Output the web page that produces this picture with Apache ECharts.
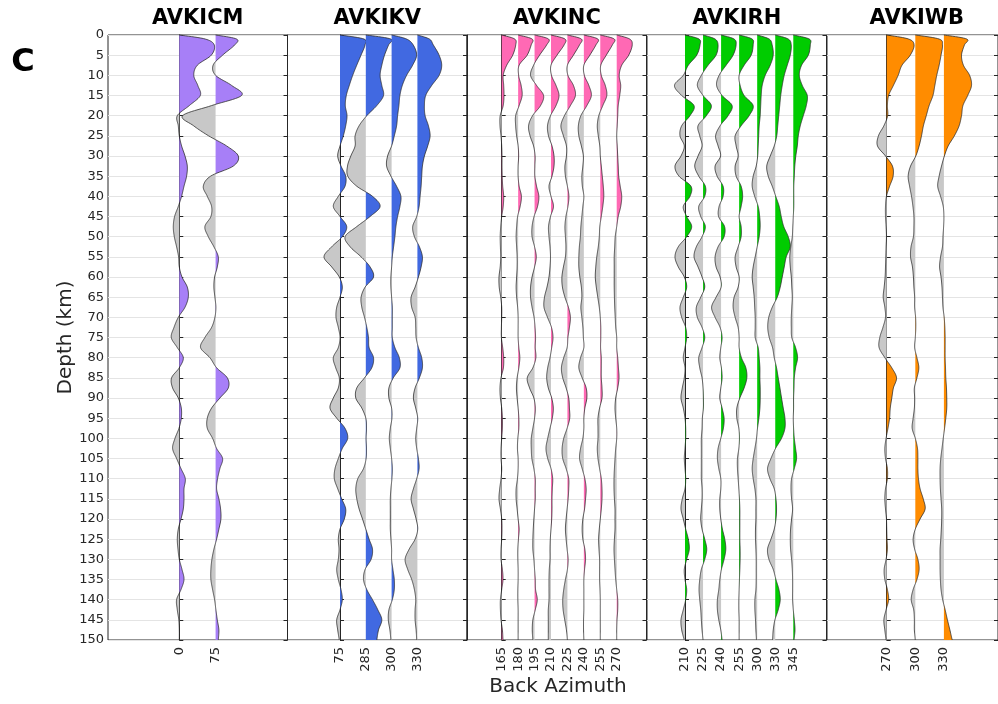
<!DOCTYPE html>
<html><head><meta charset="utf-8">
<script src="https://cdn.jsdelivr.net/npm/echarts@6/dist/echarts.min.js"></script>
<style>html,body{margin:0;padding:0;background:#fff}#c{width:998px;height:704px}</style>
</head><body><div id="c"></div>
<script>
// ---------- DATA ----------
const depth = [0,1,2.5,5,7.5,10,12.5,15,17.5,20,22.5,25,27.5,30,32.5,35,37.5,40,42.5,45,47.5,50,52.5,55,57.5,60,62.5,65,67.5,70,72.5,75,77.5,80,82.5,85,87.5,90,92.5,95,97.5,100,102.5,105,107.5,110,112.5,115,117.5,120,122.5,125,127.5,130,132.5,135,137.5,140,142.5,145,147.5,150];
const depthTicks = [0,5,10,15,20,25,30,35,40,45,50,55,60,65,70,75,80,85,90,95,100,105,110,115,120,125,130,135,140,145,150];
const stations = ['AVKICM','AVKIKV','AVKINC','AVKIRH','AVKIWB'];

const bazCM = ['0','75'];
const cm_000 = [0,26,35,32,18,14.5,18.5,21,10,-2,-1,0,2.3,5.7,8,7.3,4.7,2.3,-1,-4.7,-6,-5,-2.7,-0.7,0,2.7,8,9,5.7,-1,-5.3,-8,
  -2,4,0,-7.7,-6.7,-1,2,2,-0.3,-4.3,-6.7,-2.7,1.7,6,4.7,4.7,4,1.7,-1,-2,-1.3,0,2.7,4.7,1.7,-2.7,-2,-0.5,0,0];
const cm_075 = [0,21,19,7,-2.5,0,16,26,-4,-33,-22,-7,11,22.7,17.7,-5,-12.3,-8.3,-4,-4.7,-10.7,-7.3,-1.7,2.7,1.7,-1,-1.7,-0.7,0.3,-0.7,-4,-10.7,
  -15,-5.7,1,11.7,12.7,4.3,-4,-8.3,-8.3,-3,1,7,4.3,2,1,3.3,5,5.3,3.3,1,-1.7,-3.7,-4.7,-4.7,-3,-1,0.3,1.7,3.3,2.7];

const bazKV = ['75','285','300','330'];
const kv_075 = [0,24,25,21,16.7,12.7,9.3,6.3,5.3,7,5.7,3.3,0,-2.3,1,5.7,5,-1.7,-6.7,0,6.7,2.3,-8.3,-16,-8.3,-0.7,2.3,0,-3.3,-4,-1.7,0,
  -1.7,-6.7,-4.3,-0.7,-1.7,-6.7,-10,-3.3,5,7.7,2.3,-1.7,-5,-5.7,-2.3,1.7,5.7,4.3,0,-1.7,-1,-1.7,-3.3,-1.7,1,2.3,0,-3.3,-2.3,-0.7];
const kv_285 = [0,25,22.7,18.7,16,14.3,16,17.7,11,1,-6.7,-10.7,-10.7,-15,-18.3,-18,-9,6.7,14.3,4.3,-9,-20.7,-15.7,-4.7,4.3,7.7,-0.7,-4.7,-4,-1.3,1,2.7,
  3.3,7.7,6,-1.3,-9,-10,-4,0,0.7,0.3,0.7,0.3,-2.3,-8,-10,-9,-6.7,-3.3,0,3.3,6.7,5.3,-0.7,-2.3,1,6.7,12,16,12.7,11];
const kv_300 = [0,15,21.7,25,21,15,10.7,8.3,7.3,6,5,2.7,0,-4,-5,-0.7,5,9.3,8.3,6,4.3,3.3,2,0.7,0,-0.7,-0.7,0,0.7,0.7,0.7,0.7,
  3.3,7.7,8.3,1.7,-2.7,-2.7,0,0.3,-1.3,-2.3,-1.3,0,0.7,0.3,-0.7,-1.3,-1.3,-1.3,-1.3,-0.7,0,0,1.3,2.7,2.7,0.7,-2.7,-3.3,-1.7,-0.7];
const kv_330 = [0,12,16,21.7,24.3,21.7,14.3,8.3,7,7.7,11,12.7,10.3,7,5,4.3,3.7,2.7,1.7,-0.7,-4.7,-3,2,5,3.7,1,-2.3,-6.3,-5.7,-2.3,-1.7,-1.3,
  1,4.3,5,2,-2.3,-4,-1.7,0.3,-0.7,-1.7,-0.7,1,1.7,-0.7,-4,-6.3,-4,-1.3,0.3,-2.3,-8.3,-12.3,-9.7,-5.7,-3,-1.7,-2.3,-2.3,-1.3,-0.7];

const bazNC = ['165','180','195','210','225','240','255','270'];
const nc_165 = [0,13,14,11,5,1.5,2,2.3,1.5,-1.5,-1.7,-0.7,0,0.3,0.3,0.5,1,2,1.5,0,-1,-1.5,-1.3,-1,-1.5,-2.7,-2.5,-1,0,0,-0.3,-0.3,
  1,2,1.7,-0.7,-1.7,-1.3,0,0.7,0.7,0,-0.7,-0.7,0,-0.7,-2,-2.7,-1.3,0,0.3,0,-0.7,-0.7,0.7,1.3,0,-1.3,-1.3,-0.7,0.7,1.3];
const nc_180 = [0,14,13,9,1,0.5,3,4,1,-2.5,-2.5,-1.5,0,0.5,0,0,1,3.3,2,-0.5,-1.5,-2,-1.5,-1,-1,-1.5,-2,-1.5,-0.5,0,0,0,
  0.7,1.7,0.7,-1,-1.7,-1,0,0.7,0.7,-0.3,-0.7,0,0,-0.7,-2,-2,-1,0,1,0.3,-0.3,-0.3,0,0,-0.3,-0.3,0,0,0,0];
const nc_195 = [0,14,12,5,-1,-4,2,9,6,-2,-6,-4.5,-1,0.5,0.3,0.3,2,4.3,3,-0.5,-2.5,-2.5,0,1.7,0,-2.5,-4,-4,-2.5,-0.5,0.5,1,
  0.7,1.3,-1.7,-7.3,-5,-0.7,0.7,0,-1.7,-3.3,-3.3,-2.7,-0.7,0.7,0.7,0.7,0,-0.7,-1.3,-1.7,-1.7,-0.7,0,0.7,1,2.7,0.7,-1.7,-2.3,-1.7];
const nc_210 = [0,14,13,6,0,0.5,5,8,5,-0.5,-3.5,-2.5,1,3,3,1,-2,0,2.5,-0.5,-2.5,-2,-1,-0.5,-1,-2,-4,-6.5,-7,-3.5,0.5,2,
  0.7,-1,-3.3,-4.3,-2.7,0.7,2.3,1.3,-1,-3.3,-5,-3.3,0,1.7,1.3,1,1,0.7,0,-0.7,-1,-1,-1.7,-2,-2,-2,-2.7,-2.7,-2.7,-2.7];
const nc_225 = [0,14,12,6,0,0.5,6,8,3,-3,-6.5,-4,-1,-1,-2.5,-2,0,1.5,0.5,-1.5,-2.5,-2,-1.5,-2,-4,-5.5,-5,-2.5,1,3,2,0.5,
  -0.3,-3.7,-6,-4.7,-1.3,1.3,2,2.3,-0.3,-3.7,-5.3,-4.7,-1.3,1.3,1.3,0.7,-0.3,-1.3,-2,-1.3,-0.3,0.7,0,-2,-3.7,-4.7,-4.3,-2.7,-1,0];
const nc_240 = [0,14,12,6,0,0.5,5,7.5,3,-3,-5.5,-5,-2.5,-0.5,-1,-2,-1.5,0,-1,-2,-3,-3.5,-4.5,-5,-5,-4,-2.5,-2,-3,-2,-1,-0.5,
  0,-3.3,-5,-1.7,2.3,3,1,0,0,-1,-3.3,-4.3,-1.7,1,2.3,1.7,0.7,-1,-1.7,-1,1,1.7,0.7,0,0,0,0,-0.3,-0.3,0];
const nc_255 = [0,14,12,6,0.5,1,5,6.5,2.5,-1.5,-3,-2,-0.5,0,1,2,3,3.5,2.5,1,-0.5,-1,-2,-3.5,-4.5,-5,-4,-2.5,-1,0,0.5,0.5,
  0.3,1,1,1,1.7,1.7,-0.7,-2.3,-2.3,-2.3,-3,-2.3,-0.7,1,1.7,1.7,1,0,-1,-1.7,-1.3,-0.7,-0.7,-0.7,-0.3,0,0,0,0,0];
const nc_270 = [0,13,15.5,12,5,2.5,4,3,1.5,1,0.5,0,0.5,1,1.5,2,3.5,5,4,1.5,0,-1.5,-2,-2.5,-2.5,-2.5,-2.5,-2.3,-2,-1.5,-1,0,
  0,1,1.7,2.3,1,-1,-1.7,-1,0,0,-1,-1.7,-2.3,-2.7,-2.7,-2.3,-1.7,-1.7,-1.7,-2.3,-2.7,-2.3,-1.7,-1,0,1,1,0.3,0,0];

const bazRH = ['210','225','240','255','300','330','345'];
const rh_210 = [0,14,15,11.7,3.3,-1.7,-10.5,-3.3,9,5,-3.3,-5,-0.7,-4,-10,-6,6,5,-1.7,1.7,6.7,1.7,-6.7,-10,-6.7,-0.7,1.7,-1.7,-5,-3.3,0.7,1.7,
  0,-1.7,0,-0.7,-2.7,-4,-1.7,0,0.7,0.7,0,-0.7,0,0.7,0,-2.7,-4,-1.7,0.7,3.3,4.3,1.7,-0.7,0,1.7,0.7,-1.7,-4,-3.3,-0.7];
const rh_225 = [0,12,15,13,5,-1.7,-5.7,0,8.3,3.3,-5,-3.3,-1,-5,-8.3,-4.3,2.3,1.7,-4.3,-2.3,2.3,-1,-6.7,-9,-5,-1,1.7,-2.3,-6.7,-5.7,-1,1.7,
  -1,-4.3,-3.3,-1,0,0.3,0.3,-0.7,-1,-1.7,-1.7,-1.7,-1.7,-1.7,-1,-1,-1.7,-2.3,-1,1.7,3.7,1.7,-1.7,-3.3,-4,-3.3,-2.3,-1.7,-1,0];
const rh_240 = [0,13,15,12,5,-2,-4.5,1,11,7,-1,-5.5,-3,-0.5,-6,-4,2,2,-2,-2.5,3.5,3,-3,-6,-5,-1,0,-5,-9.5,-6,-1,1,
  -0.3,-1.3,0.3,1,-0.3,-1.3,1,3,2.3,-0.3,-3,-3.7,-2.3,-0.3,-0.3,-1.3,-1.3,-0.3,1.3,3.7,4.7,3,0.3,-1.3,-2.3,-3.7,-3.7,-2.3,-0.3,1];
const rh_255 = [0,13,14,12,5,0,1,5,14,10,2,-4,-3,-1,-4,-3,2,3.5,2,0,2,2,-1,-4,-3,0,-1,-5,-6,-4,-1,0,
  0,2.3,6.7,7.7,5,0.7,-2.3,-2.3,-0.3,0.3,-0.3,-1.7,-1.7,-1,-0.3,0.3,0.7,0.7,0.7,0.7,1,1,0.7,0.3,0,-0.3,-0.3,0,0,0];
const rh_300 = [0,12,15,16,13,8,5,4,3.5,3,2,1.5,1,0.5,-1,-4,-5,-2.5,1,2.5,3,2,0,-2,-4,-5,-4,-3,-2.5,-2,-2,-2,
  1,2,2.7,2.7,3,3,2.7,1.7,0.3,-0.7,-2.3,-4,-5,-4,-2.3,-1.3,-1.3,-1.3,-1.7,-1.7,-1.3,-1,-1,-1,-1.3,-2.3,-2.3,-1.7,-1.3,-0.7];
const rh_330 = [0,13,16,15,12,9,7,5.5,4.5,3.5,2.5,1.5,-1,-5,-8.5,-7,-3,0.5,4,6,8.5,13,15,11,9,7,5,2,-3,-6.5,-7.5,-6,
  -2.7,-1,1.3,3,4.7,6.3,8,9.7,9.7,6.3,0.3,-4.3,-7.7,-5.3,-1,0.7,1.3,0.7,-1,-4.3,-7.7,-6.3,-2,0.7,3.7,5,3,-0.3,-2,-2.7];
const rh_345 = [0,16,17,15,8.3,6,9,14,13,10,7,5,4,2.5,1.5,1,0.5,0.5,0.5,0,-0.5,-1,-2.5,-3.5,-3,-2,-1.5,-1,-1.5,-2,-2,-1.5,
  2.3,4.3,2.3,1,0.7,0.3,0.3,0,0.3,1,2.3,3.3,1,-1.7,-2.3,-1.7,-0.7,-1.7,-2.7,-3,-2.7,-1.7,-1,-0.7,-0.7,-0.7,0,1,1.7,0.7];

const bazWB = ['270','300','330'];
const wb_270 = [0,23,28.7,24.7,16,12,7,2,0.7,1,-3,-8.7,-9.7,-1.3,6,6.7,3,-0.3,-1.3,-1.3,-0.7,-0.3,-0.7,-1,-1.3,-1.7,-2.7,-3.7,-2,-1.3,-4,-7.3,
  -8,-2,5.3,10.3,7,5.3,3.7,3,1.3,-0.7,-2,-1.3,0.7,0.7,-1.3,-2,-1.3,-0.3,0,0.3,0.7,-0.7,-2.7,-2,0.7,2,-0.7,-3,-2,-0.7];
const wb_300 = [0,25,28.5,27,25,22.5,20.5,18.5,14.5,11.5,8.5,6.5,4,0.5,-5,-7.5,-6,-4,-2.5,-1.5,-1.5,-2,-4.5,-5,-3,-2,-1.5,-0.7,-0.7,0.3,0.5,0,
  -0.7,1.7,3.7,1.7,-1,-0.7,-1,-2.3,-3.3,0,2.3,2.7,2.7,3.3,5,8.3,10.3,5,0,-2.3,-0.7,2.7,4,1.7,-2.3,-4.3,-1.7,-1,-1,0];
const wb_330 = [0,24,21.5,18.5,20.5,27,29,25,20,18.5,16,11,4.5,0.5,-2.5,-5,-6.5,-3.5,-0.7,0,-0.3,-1,-1.5,-3.5,-4.5,-3,-2,-1.5,-1,0.3,1,1.3,
  1.3,1.3,1.7,2,2.7,3,3,2,0.7,-0.7,-2,-3.3,-4,-4,-3.7,-3,-2.3,-2.3,-2.7,-3.3,-4,-4,-4,-3.7,-3,-1.3,1.3,3.7,6.3,8.7];

// ---------- LAYOUT / STYLE ----------
const GRID_TOP = 35, GRID_H = 605, GRID_W = 179.5;
const panels = [
  {name: stations[0], baz: bazCM, traces: [cm_000, cm_075], color: '#a77ff7', left: 108,   min: -1.964, max: 2.981, gain: 1/36.3},
  {name: stations[1], baz: bazKV, traces: [kv_075, kv_285, kv_300, kv_330], color: '#4169e1', left: 287.5, min: -2.035, max: 4.922, gain: 1/25.8},
  {name: stations[2], baz: bazNC, traces: [nc_165, nc_180, nc_195, nc_210, nc_225, nc_240, nc_255, nc_270], color: '#ff69b4', left: 467, min: -2.112, max: 8.813, gain: 1/16.43},
  {name: stations[3], baz: bazRH, traces: [rh_210, rh_225, rh_240, rh_255, rh_300, rh_330, rh_345], color: '#00cc00', left: 647, min: -2.105, max: 7.84, gain: 1/18.05},
  {name: stations[4], baz: bazWB, traces: [wb_270, wb_300, wb_330], color: '#ff8c00', left: 827, min: -2.09, max: 3.893, gain: 1/30}
];
const NEG = '#c8c8c8', LINE = '#2e2e2e', AX = '#262626', FONT = 'DejaVu Sans';

function catmull(pts, n) {
  const out = [];
  for (let i = 0; i < pts.length - 1; i++) {
    const p0 = pts[i - 1] || pts[i], p1 = pts[i], p2 = pts[i + 1], p3 = pts[i + 2] || pts[i + 1];
    for (let s = 0; s < n; s++) {
      const t = s / n, t2 = t * t, t3 = t2 * t;
      const f = (a, b, c, d) => 0.5 * (2 * b + (-a + c) * t + (2 * a - 5 * b + 4 * c - d) * t2 + (-a + 3 * b - 3 * c + d) * t3);
      out.push([f(p0[0], p1[0], p2[0], p3[0]), f(p0[1], p1[1], p2[1], p3[1])]);
    }
  }
  out.push(pts[pts.length - 1]);
  return out;
}

function makeRender(P) {
  return function (params, api) {
    const k = params.dataIndex;
    const amps = P.traces[k];
    const dense = catmull(depth.map((d, j) => [d, amps[j]]), 10);
    const px = (d, a) => api.coord([k + a * P.gain, d]);
    const runs = [];
    let run = null;
    for (let j = 0; j < dense.length; j++) {
      const d = dense[j][0], a = dense[j][1];
      const sg = a >= 0 ? 1 : -1;
      if (!run) { run = {sg, pts: [[d, 0], [d, a]]}; continue; }
      if (sg !== run.sg) {
        const dp = dense[j - 1][0], ap = dense[j - 1][1];
        const t = ap / (ap - a);
        const dc = dp + t * (d - dp);
        run.pts.push([dc, 0]);
        runs.push(run);
        run = {sg, pts: [[dc, 0], [d, a]]};
      } else run.pts.push([d, a]);
    }
    run.pts.push([run.pts[run.pts.length - 1][0], 0]);
    runs.push(run);
    const children = runs.map(r => ({
      type: 'polygon',
      shape: {points: r.pts.map(q => px(q[0], q[1]))},
      style: {fill: r.sg > 0 ? P.color : NEG, stroke: null}
    }));
    children.push({
      type: 'polyline',
      shape: {points: dense.map(q => px(q[0], q[1]))},
      style: {stroke: LINE, lineWidth: 0.8, fill: null}
    });
    return {type: 'group', children};
  };
}

const grid = [], xAxis = [], yAxis = [], series = [], graphic = [];
panels.forEach((P, g) => {
  grid.push({left: P.left, top: GRID_TOP, width: GRID_W, height: GRID_H, show: true,
    borderColor: AX, borderWidth: 1, backgroundColor: 'rgba(0,0,0,0)'});
  xAxis.push({gridIndex: g, type: 'value', min: P.min, max: P.max, position: 'bottom',
    axisLine: {show: false}, axisTick: {show: false}, splitLine: {show: false},
    axisLabel: {customValues: P.baz.map((b, i) => i), formatter: v => P.baz[Math.round(v)] || '',
      rotate: 90, fontSize: 13, color: AX, fontFamily: FONT, margin: 7}});
  const yBase = {gridIndex: g, type: 'value', min: 0, max: 150, interval: 5, inverse: true,
    axisLine: {show: true, lineStyle: {color: AX, width: 1}},
    axisTick: {show: true, inside: true, length: 4, lineStyle: {color: AX, width: 1}}};
  yAxis.push(Object.assign({}, yBase, {position: 'left',
    splitLine: {show: true, lineStyle: {color: '#e4e4e4', width: 1}},
    axisLabel: {show: g === 0, fontSize: 13, color: AX, fontFamily: FONT, margin: 4,
      customValues: depthTicks}}));
  yAxis.push(Object.assign({}, yBase, {position: 'right', splitLine: {show: false}, axisLabel: {show: false}}));
  series.push({type: 'custom', xAxisIndex: g, yAxisIndex: 2 * g, renderItem: makeRender(P),
    data: P.traces.map((t, i) => [i, 0]), encode: {x: 0, y: 1}, z: 3, clip: false, silent: true});
  graphic.push({type: 'text', x: P.left + GRID_W / 2, y: 19,
    style: {text: P.name, fill: '#000', font: 'bold 21px "DejaVu Sans"', align: 'center', verticalAlign: 'middle'}});
});
graphic.push({type: 'text', x: 23, y: 63,
  style: {text: 'C', fill: '#000', font: 'bold 32px "DejaVu Sans"', align: 'center', verticalAlign: 'middle'}});
graphic.push({type: 'text', x: 558, y: 687,
  style: {text: 'Back Azimuth', fill: AX, font: '20px "DejaVu Sans"', align: 'center', verticalAlign: 'middle'}});
graphic.push({type: 'text', x: 66, y: 337.5, rotation: Math.PI / 2,
  style: {text: 'Depth (km)', fill: AX, font: '20px "DejaVu Sans"', align: 'center', verticalAlign: 'middle'}});

const chart = echarts.init(document.getElementById('c'), null, {renderer: 'canvas'});
chart.setOption({animation: false, backgroundColor: '#fff', grid, xAxis, yAxis, series, graphic});
</script></body></html>
